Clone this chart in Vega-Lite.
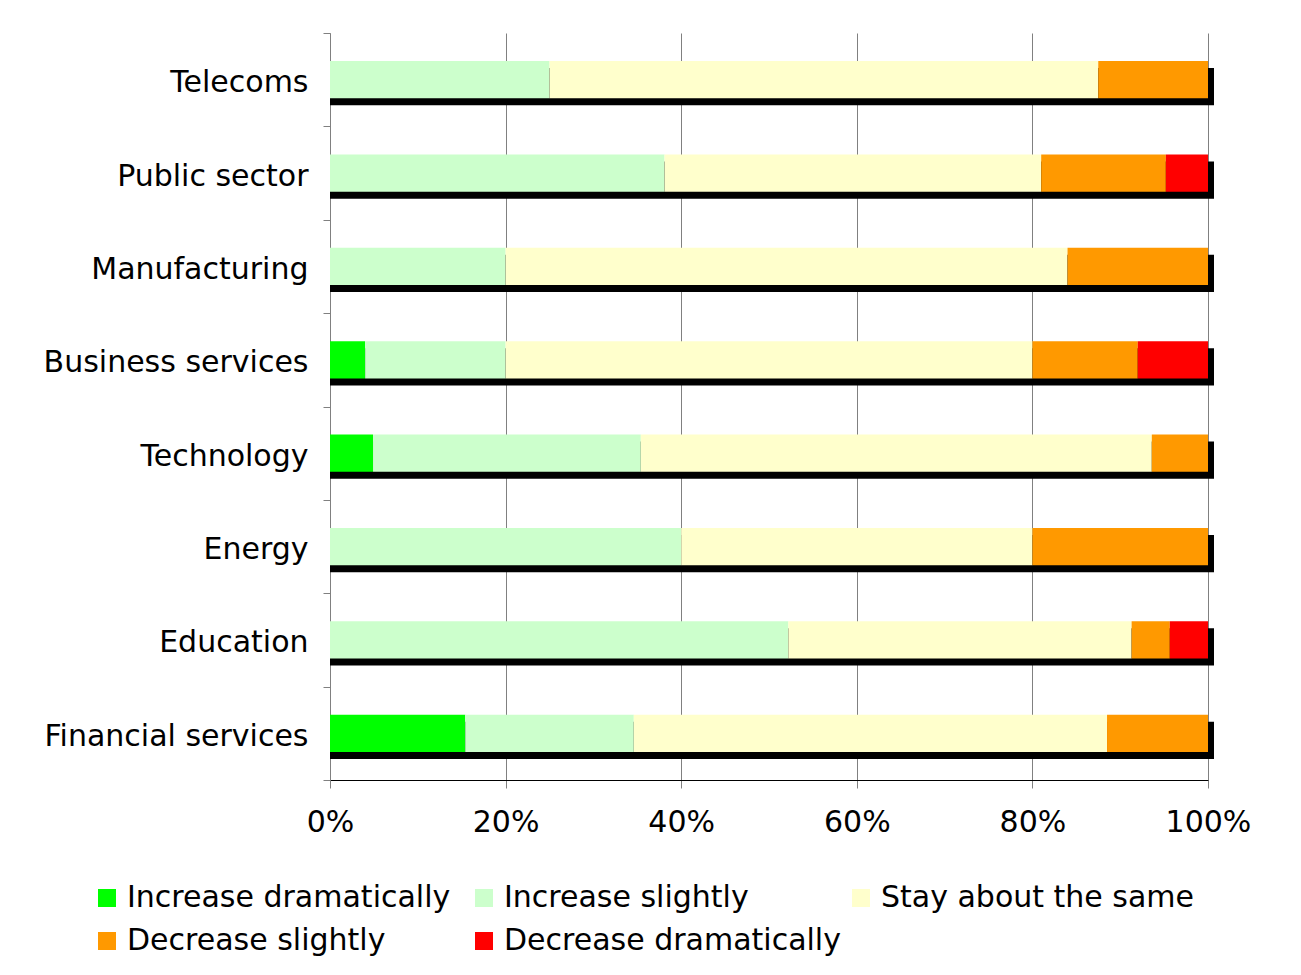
{
  "$schema": "https://vega.github.io/schema/vega-lite/v6.json",
  "width": 878,
  "height": 747,
  "autosize": "none",
  "padding": {"left": 330, "top": 33, "right": 93, "bottom": 195},
  "background": "white",
  "config": {
    "font": "DejaVu Sans",
    "view": {"stroke": null}
  },
  "data": {
    "values": [
      {"category": "Telecoms", "response": "Increase slightly", "k": 2, "value": 25},
      {"category": "Telecoms", "response": "Stay about the same", "k": 3, "value": 62.5},
      {"category": "Telecoms", "response": "Decrease slightly", "k": 4, "value": 12.5},
      {"category": "Public sector", "response": "Increase slightly", "k": 2, "value": 38.1},
      {"category": "Public sector", "response": "Stay about the same", "k": 3, "value": 42.9},
      {"category": "Public sector", "response": "Decrease slightly", "k": 4, "value": 14.2},
      {"category": "Public sector", "response": "Decrease dramatically", "k": 5, "value": 4.8},
      {"category": "Manufacturing", "response": "Increase slightly", "k": 2, "value": 20},
      {"category": "Manufacturing", "response": "Stay about the same", "k": 3, "value": 64},
      {"category": "Manufacturing", "response": "Decrease slightly", "k": 4, "value": 16},
      {"category": "Business services", "response": "Increase dramatically", "k": 1, "value": 4},
      {"category": "Business services", "response": "Increase slightly", "k": 2, "value": 16},
      {"category": "Business services", "response": "Stay about the same", "k": 3, "value": 60},
      {"category": "Business services", "response": "Decrease slightly", "k": 4, "value": 12},
      {"category": "Business services", "response": "Decrease dramatically", "k": 5, "value": 8},
      {"category": "Technology", "response": "Increase dramatically", "k": 1, "value": 4.9},
      {"category": "Technology", "response": "Increase slightly", "k": 2, "value": 30.5},
      {"category": "Technology", "response": "Stay about the same", "k": 3, "value": 58.2},
      {"category": "Technology", "response": "Decrease slightly", "k": 4, "value": 6.4},
      {"category": "Energy", "response": "Increase slightly", "k": 2, "value": 40},
      {"category": "Energy", "response": "Stay about the same", "k": 3, "value": 40},
      {"category": "Energy", "response": "Decrease slightly", "k": 4, "value": 20},
      {"category": "Education", "response": "Increase slightly", "k": 2, "value": 52.2},
      {"category": "Education", "response": "Stay about the same", "k": 3, "value": 39.1},
      {"category": "Education", "response": "Decrease slightly", "k": 4, "value": 4.35},
      {"category": "Education", "response": "Decrease dramatically", "k": 5, "value": 4.35},
      {"category": "Financial services", "response": "Increase dramatically", "k": 1, "value": 15.4},
      {"category": "Financial services", "response": "Increase slightly", "k": 2, "value": 19.2},
      {"category": "Financial services", "response": "Stay about the same", "k": 3, "value": 53.9},
      {"category": "Financial services", "response": "Decrease slightly", "k": 4, "value": 11.5}
    ]
  },
  "encoding": {
    "y": {
      "field": "category",
      "type": "nominal",
      "sort": ["Telecoms", "Public sector", "Manufacturing", "Business services", "Technology", "Energy", "Education", "Financial services"],
      "scale": {"paddingInner": 0, "paddingOuter": 0},
      "axis": {
        "title": null,
        "tickBand": "extent",
        "tickSize": 7,
        "tickColor": "#808080",
        "domainColor": "#808080",
        "labelFontSize": 30,
        "labelColor": "black",
        "labelPadding": 15,
        "labelOffset": 3,
        "labelLimit": 400,
        "grid": false
      }
    }
  },
  "layer": [
    {
      "mark": {"type": "bar", "color": "black", "xOffset": 6, "yOffset": 7, "height": {"band": 0.4}},
      "encoding": {
        "x": {"aggregate": "sum", "field": "value", "type": "quantitative", "scale": {"domain": [0, 100], "nice": false}}
      }
    },
    {
      "mark": {"type": "bar", "height": {"band": 0.4}},
      "encoding": {
        "x": {
          "field": "value",
          "type": "quantitative",
          "stack": "zero",
          "scale": {"domain": [0, 100], "nice": false},
          "axis": {
            "title": null,
            "values": [0, 20, 40, 60, 80, 100],
            "labelExpr": "datum.value + '%'",
            "grid": true,
            "gridColor": "#808080",
            "gridOpacity": 1,
            "domainColor": "black",
            "tickColor": "#808080",
            "tickSize": 8,
            "labelFontSize": 30,
            "labelColor": "black",
            "labelPadding": 19,
            "labelFlush": false,
            "zindex": 0
          }
        },
        "color": {
          "field": "response",
          "type": "nominal",
          "scale": {
            "domain": ["Increase dramatically", "Increase slightly", "Stay about the same", "Decrease slightly", "Decrease dramatically"],
            "range": ["#00FF00", "#CCFFCC", "#FFFFCC", "#FF9900", "#FF0000"]
          },
          "legend": {
            "title": null,
            "orient": "none",
            "legendX": -238,
            "legendY": 850,
            "direction": "horizontal",
            "columns": 3,
            "gridAlign": "all",
            "columnPadding": 5,
            "rowPadding": 13,
            "symbolType": "square",
            "symbolSize": 324,
            "symbolStrokeWidth": 0,
            "symbolOpacity": 1,
            "labelFontSize": 30,
            "labelColor": "black",
            "labelOffset": 5,
            "labelLimit": 500
          }
        },
        "order": {"field": "k", "type": "quantitative", "sort": "ascending"}
      }
    }
  ]
}
